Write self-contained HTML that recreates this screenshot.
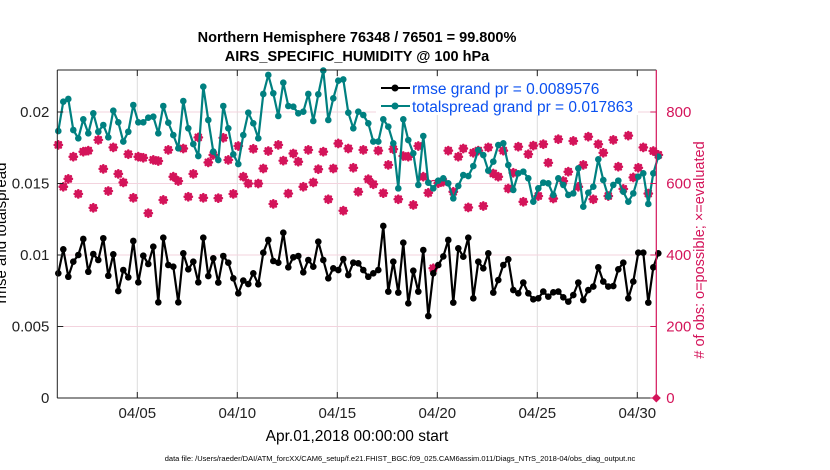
<!DOCTYPE html>
<html><head><meta charset="utf-8"><style>
body{margin:0;background:#fff;}
svg{display:block;font-family:"Liberation Sans",Arial,sans-serif;}
</style></head><body>
<svg id="chart" width="830" height="470" viewBox="0 0 830 470" xmlns="http://www.w3.org/2000/svg">
<rect x="0" y="0" width="830" height="470" fill="#fff"/>
<text x="357" y="42" text-anchor="middle" font-size="14.5" font-weight="bold">Northern Hemisphere 76348 / 76501 = 99.800%</text>
<text x="357" y="61" text-anchor="middle" font-size="14.5" font-weight="bold">AIRS_SPECIFIC_HUMIDITY @ 100 hPa</text>
<g id="grid"></g>
<g id="marks"></g>
<g id="axes"></g>
<text transform="translate(6,233) rotate(-90)" text-anchor="middle" font-size="15">rmse and totalspread</text>
<text transform="translate(704,250) rotate(-90)" text-anchor="middle" font-size="14.5" fill="#d4145a"># of obs: o=possible; ×=evaluated</text>
<text x="357" y="441" text-anchor="middle" font-size="15.5">Apr.01,2018 00:00:00 start</text>
<text x="400" y="461" text-anchor="middle" font-size="7.5">data file: /Users/raeder/DAI/ATM_forcXX/CAM6_setup/f.e21.FHIST_BGC.f09_025.CAM6assim.011/Diags_NTrS_2018-04/obs_diag_output.nc</text>
<g id="legend">
<rect x="376" y="77" width="262" height="38" fill="#fff"/>
<line x1="381" y1="88" x2="410" y2="88" stroke="#000" stroke-width="2"/>
<circle cx="395" cy="88" r="3.5" fill="#000"/>
<text x="412" y="94" font-size="15.5" fill="#0a50f0">rmse grand pr = 0.0089576</text>
<line x1="381" y1="106" x2="410" y2="106" stroke="#008080" stroke-width="2"/>
<circle cx="395" cy="106" r="3.5" fill="#008080"/>
<text x="412" y="112" font-size="15.5" fill="#0a50f0">totalspread grand pr = 0.017863</text>
</g>
</svg>
<script>
const rmse=[0.00872,0.01040,0.00848,0.00953,0.01000,0.01112,0.00883,0.01007,0.00965,0.01117,0.00855,0.01005,0.00748,0.00895,0.00844,0.01098,0.00809,0.00995,0.00937,0.01058,0.00669,0.01121,0.00930,0.00918,0.00669,0.01012,0.00900,0.00953,0.00809,0.01121,0.00853,
0.00977,0.00807,0.00993,0.00946,0.00837,0.00732,0.00821,0.00797,0.00872,0.00795,0.01016,0.01105,0.00958,0.00946,0.01156,0.00914,0.00984,0.00993,0.00879,0.00965,0.00918,0.01093,0.00965,0.00837,0.00907,0.00895,0.00972,0.00860,0.00946,
0.00942,0.00895,0.00848,0.00872,0.00895,0.01203,0.00744,0.00953,0.00737,0.01086,0.00662,0.00890,0.00744,0.01035,0.00573,0.00872,0.00930,0.00990,0.01105,0.00667,0.01047,0.00988,0.01121,0.00697,0.00953,0.00907,0.01012,0.00737,0.00825,0.00930,
0.00970,0.00755,0.00732,0.00807,0.00732,0.00690,0.00697,0.00744,0.00709,0.00739,0.00744,0.00704,0.00674,0.00720,0.00807,0.00685,0.00755,0.00779,0.00914,0.00814,0.00779,0.00783,0.00900,0.00946,0.00697,0.00814,0.01016,0.01016,0.00667,0.00914,0.01012];
const spread=[0.01867,0.02072,0.02091,0.01874,0.01816,0.01949,0.01851,0.01991,0.01862,0.01909,0.01823,0.02009,0.01928,0.01793,0.01862,0.02049,0.01928,0.01928,0.01960,0.01967,0.01851,0.02042,0.01925,0.01839,0.01746,0.02077,0.01886,0.01776,0.01692,0.02177,0.01944,
0.01723,0.01664,0.02042,0.01886,0.01704,0.01636,0.01839,0.01995,0.01921,0.01816,0.02126,0.02259,0.02131,0.01972,0.02205,0.02042,0.02037,0.01991,0.02002,0.02126,0.01937,0.02124,0.02290,0.01944,0.02096,0.02219,0.02228,0.01995,0.01886,
0.02002,0.01979,0.01921,0.01793,0.01793,0.01949,0.01897,0.01781,0.01466,0.01949,0.01804,0.01711,0.01490,0.01832,0.01506,0.01466,0.01520,0.01536,0.01501,0.01396,0.01483,0.01559,0.01552,0.01622,0.01734,0.01699,0.01590,0.01653,0.01769,0.01781,
0.01629,0.01455,0.01571,0.01583,0.01536,0.01373,0.01466,0.01506,0.01501,0.01420,0.01536,0.01490,0.01420,0.01431,0.01606,0.01338,0.01436,0.01478,0.01669,0.01524,0.01408,0.01490,0.01520,0.01443,0.01373,0.01431,0.01548,0.01571,0.01357,0.01571,0.01688];
const possible=[708,591,613,675,571,689,692,532,722,641,579,701,627,603,682,560,675,672,517,666,663,554,694,619,607,698,563,627,729,560,659,
680,559,728,666,571,705,619,600,697,600,642,691,543,708,664,572,684,661,591,694,603,640,689,556,642,712,524,698,644,
577,694,612,598,692,573,652,696,556,677,675,540,705,619,574,600,601,605,692,577,675,698,533,686,692,537,701,628,619,
692,586,630,703,549,682,706,565,710,658,558,724,607,633,719,591,652,731,556,710,686,565,722,647,585,734,617,644,701,572,691,680];
const evaluated=possible.slice();
evaluated[75]=363;
const xTickDays=[4,9,14,19,24,29];
const xTickLabels=["04/05","04/10","04/15","04/20","04/25","04/30"];
const yLeftTicks=[0,0.005,0.01,0.015,0.02];
const yLeftLabels=["0","0.005","0.01","0.015","0.02"];
const yRightTicks=[0,200,400,600,800];

const NS="http://www.w3.org/2000/svg";
const L=57.3,R=656.3,T=70,B=398;
const xs=t=>L+t*20;
const yL=v=>B-v*14300;
const yR=c=>B-c*71.5/200;
const tOf=i=>0.05+0.25*i;
const MAG="#d4145a",TEAL="#008080";
function mk(tag,attrs,parent){const e=document.createElementNS(NS,tag);for(const k in attrs)e.setAttribute(k,attrs[k]);parent.appendChild(e);return e;}
const grid=document.getElementById('grid'),marks=document.getElementById('marks'),axes=document.getElementById('axes');

xTickDays.forEach((d,i)=>{
  const g=mk('line',{x1:xs(d),x2:xs(d),y1:T,y2:B,stroke:'#dcdcdc','stroke-width':1},grid);
  
  
});
yLeftTicks.forEach(v=>{ if(v===0)return;
  const g=mk('line',{x1:L,x2:R,y1:yL(v),y2:yL(v),stroke:'#f3d3de','stroke-width':1},grid);
  
  
});

function drawLine(vals,color,name){
  const pts=vals.map((v,i)=>xs(tOf(i)).toFixed(1)+','+yL(v).toFixed(1)).join(' ');
  const pl=mk('polyline',{points:pts,fill:'none',stroke:color,'stroke-width':2.2,'stroke-linejoin':'round'},marks);
  
  
  vals.forEach((v,i)=>{
    const c=mk('circle',{cx:xs(tOf(i)),cy:yL(v),r:3.3,fill:color},marks);
    
    
  });
}
possible.forEach((c,i)=>{
  const o=mk('circle',{cx:xs(tOf(i)),cy:yR(c),r:3,fill:'none',stroke:MAG,'stroke-width':1.3},marks);
  
  
});
evaluated.forEach((c,i)=>{
  const x=xs(tOf(i)),y=yR(c),s=3.6,d=2.6;
  const p=mk('path',{d:`M${x},${y-s}V${y+s}M${x-s},${y}H${x+s}M${x-d},${y-d}L${x+d},${y+d}M${x-d},${y+d}L${x+d},${y-d}`,fill:'none',stroke:MAG,'stroke-width':2.6,'stroke-linecap':'round'},marks);
  
  
});
drawLine(spread,TEAL,'totalspread');
drawLine(rmse,'#000','rmse');

mk('line',{x1:L,x2:R,y1:T,y2:T,stroke:'#222','stroke-width':1},axes);
mk('line',{x1:L,x2:R,y1:B,y2:B,stroke:'#222','stroke-width':1},axes);
mk('line',{x1:L,x2:L,y1:T,y2:B,stroke:'#222','stroke-width':1},axes);
mk('line',{x1:R,x2:R,y1:T,y2:B,stroke:MAG,'stroke-width':1.2},axes);
xTickDays.forEach((d,i)=>{
  mk('line',{x1:xs(d),x2:xs(d),y1:B,y2:B-6,stroke:'#222'},axes);
  mk('line',{x1:xs(d),x2:xs(d),y1:T,y2:T+6,stroke:'#222'},axes);
  const t=mk('text',{x:xs(d),y:B+20,'text-anchor':'middle','font-size':15,fill:'#222'},axes);
  t.textContent=xTickLabels[i];
  
  
});
yLeftTicks.forEach((v,i)=>{
  mk('line',{x1:L,x2:L+6,y1:yL(v),y2:yL(v),stroke:'#222'},axes);
  const t=mk('text',{x:L-8,y:yL(v)+5,'text-anchor':'end','font-size':15,fill:'#222'},axes);
  t.textContent=yLeftLabels[i];
  
  
});
yRightTicks.forEach(c=>{
  mk('line',{x1:R,x2:R-6,y1:yR(c),y2:yR(c),stroke:MAG},axes);
  const t=mk('text',{x:R+10,y:yR(c)+5,'font-size':15,fill:MAG},axes);
  t.textContent=String(c);
  
  
});
const z=mk('path',{d:`M${R},${B-4.5}L${R+4.5},${B}L${R},${B+4.5}L${R-4.5},${B}Z`,fill:MAG},axes);


</script>
</body></html>
